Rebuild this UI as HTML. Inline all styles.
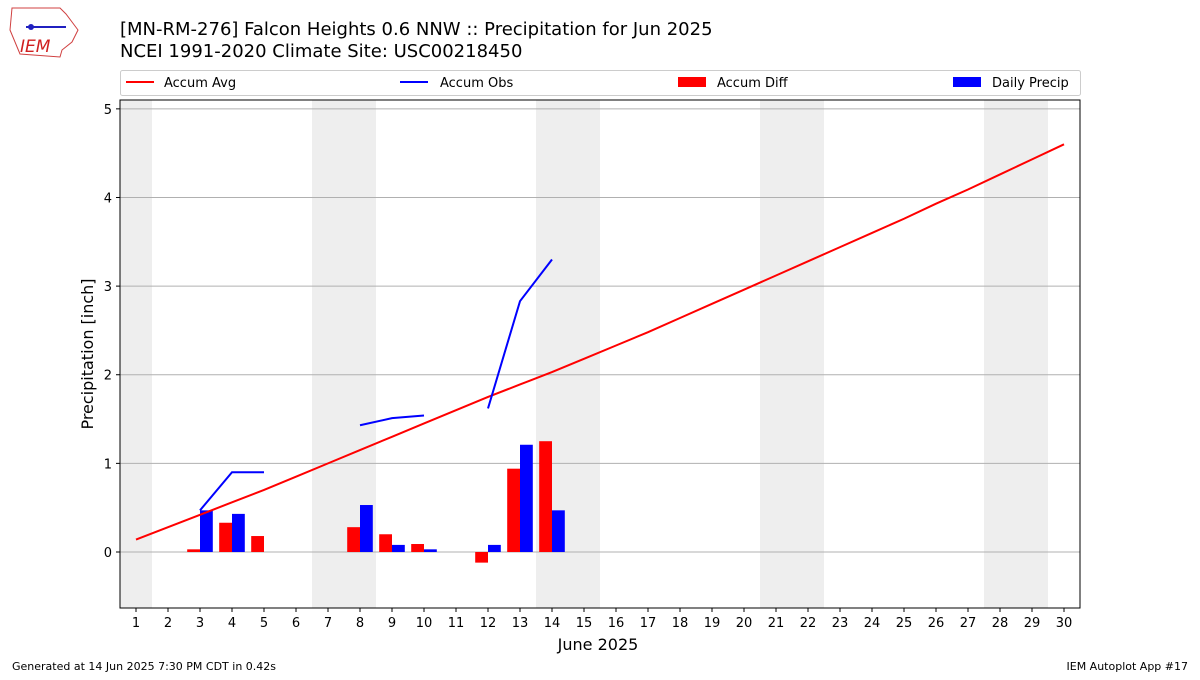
<!DOCTYPE html>
<html><head><meta charset="utf-8"><style>
body{margin:0;background:#fff;font-family:"Liberation Sans","DejaVu Sans",sans-serif;}
svg text{font-family:"DejaVu Sans","Liberation Sans",sans-serif;}
</style></head><body>
<svg id="c" width="1200" height="675" viewBox="0 0 1200 675" xmlns="http://www.w3.org/2000/svg">
<g>
<path d="M12,8 L60,8 L66,14 L78,30 L72,42 L62,50 L60,57 L20,54 L10,30 Z" fill="#fff" stroke="#d04040" stroke-width="1"/>
<text x="20" y="52" font-size="17" fill="#d02020" font-style="italic" font-family="Liberation Serif,serif">IEM</text>
<line x1="26" y1="27" x2="66" y2="27" stroke="#2020c0" stroke-width="2"/>
<circle cx="31" cy="27" r="3" fill="#2020c0"/>
</g>
<text x="120" y="35" font-size="18">[MN-RM-276] Falcon Heights 0.6 NNW :: Precipitation for Jun 2025</text>
<text x="120" y="57" font-size="18">NCEI 1991-2020 Climate Site: USC00218450</text>
<g>
<rect x="120.5" y="70.5" width="960" height="25" fill="#fff" stroke="#ccc" rx="2"/>
<g><line x1="126" y1="82" x2="154" y2="82" stroke="#f00" stroke-width="2"/><text x="164" y="87" font-size="13">Accum Avg</text></g>
<g><line x1="400" y1="82" x2="428" y2="82" stroke="#00f" stroke-width="2"/><text x="440" y="87" font-size="13">Accum Obs</text></g>
<g><rect x="678" y="77" width="28" height="10" fill="#f00"/><text x="717" y="87" font-size="13">Accum Diff</text></g>
<g><rect x="953" y="77" width="28" height="10" fill="#00f"/><text x="992" y="87" font-size="13">Daily Precip</text></g>
</g>
<g id="plot"></g>
<text x="598" y="650" font-size="16" text-anchor="middle">June 2025</text>
<text transform="translate(93,354) rotate(-90)" font-size="16" text-anchor="middle">Precipitation [inch]</text>
<text x="12" y="670" font-size="11">Generated at 14 Jun 2025 7:30 PM CDT in 0.42s</text>
<text x="1188" y="670" font-size="11" text-anchor="end">IEM Autoplot App #17</text>
</svg>
<script>
const days=[1,2,3,4,5,6,7,8,9,10,11,12,13,14,15,16,17,18,19,20,21,22,23,24,25,26,27,28,29,30];
const accumAvg=[0.14,0.28,0.42,0.56,0.70,0.85,1.00,1.15,1.30,1.45,1.60,1.75,1.89,2.03,2.18,2.33,2.48,2.64,2.80,2.96,3.12,3.28,3.44,3.60,3.76,3.93,4.09,4.26,4.43,4.60];
const accumObs=[null,null,0.47,0.90,0.90,null,null,1.43,1.51,1.54,null,1.62,2.83,3.30,null,null,null,null,null,null,null,null,null,null,null,null,null,null,null,null];
const dailyPrecip=[null,null,0.47,0.43,null,null,null,0.53,0.08,0.03,null,0.08,1.21,0.47,null,null,null,null,null,null,null,null,null,null,null,null,null,null,null,null];
const accumDiff=[null,null,0.03,0.33,0.18,null,null,0.28,0.20,0.09,null,-0.12,0.94,1.25,null,null,null,null,null,null,null,null,null,null,null,null,null,null,null,null];
const weekendStarts=[1,7,14,21,28];
const weekendLens=[1,2,2,2,2];
const yTicks=[0,1,2,3,4,5];
const L=120,R=1080,T=100,B=608,xMin=0.5,xMax=30.5,yMin=-0.632,yMax=5.1;
const X=d=>L+(d-xMin)/(xMax-xMin)*(R-L);
const Y=v=>B-(v-yMin)/(yMax-yMin)*(B-T);
const NS="http://www.w3.org/2000/svg",g=document.getElementById('plot');
function mk(t,a,p){const e=document.createElementNS(NS,t);for(const k in a)e.setAttribute(k,a[k]);(p||g).appendChild(e);return e;}
weekendStarts.forEach((s,i)=>{const r=mk('rect',{x:X(s-0.5),y:T,width:X(s-0.5+weekendLens[i])-X(s-0.5),height:B-T,fill:'#eeeeee'});

});
yTicks.forEach(v=>{const l=mk('line',{x1:L,x2:R,y1:Y(v),y2:Y(v),stroke:'#b0b0b0','stroke-width':1});


mk('line',{x1:L-4,x2:L,y1:Y(v),y2:Y(v),stroke:'#000'});
const t=mk('text',{x:L-8,y:Y(v)+5,'font-size':13,'text-anchor':'end'});t.textContent=v;

});
days.forEach(d=>{mk('line',{x1:X(d),x2:X(d),y1:B,y2:B+4,stroke:'#000'});
const t=mk('text',{x:X(d),y:B+19,'font-size':13,'text-anchor':'middle'});t.textContent=d;

});
const bw=0.4;
days.forEach((d,i)=>{
if(accumDiff[i]!=null){const v=accumDiff[i];const r=mk('rect',{x:X(d-bw),y:Math.min(Y(v),Y(0)),width:X(d)-X(d-bw),height:Math.abs(Y(v)-Y(0)),fill:'#f00'});

}
if(dailyPrecip[i]!=null){const v=dailyPrecip[i];const r=mk('rect',{x:X(d),y:Math.min(Y(v),Y(0)),width:X(d+bw)-X(d),height:Math.abs(Y(v)-Y(0)),fill:'#00f'});

}
});
const avgLine=mk('polyline',{points:days.map((d,i)=>X(d)+','+Y(accumAvg[i])).join(' '),fill:'none',stroke:'#f00','stroke-width':2});


let seg=[];const segs=[];
days.forEach((d,i)=>{if(accumObs[i]!=null)seg.push(X(d)+','+Y(accumObs[i]));else{if(seg.length)segs.push(seg);seg=[];}});if(seg.length)segs.push(seg);
segs.forEach(s=>{const p=mk('polyline',{points:s.join(' '),fill:'none',stroke:'#00f','stroke-width':2});

});
const fr=mk('rect',{x:L,y:T,width:R-L,height:B-T,fill:'none',stroke:'#000','stroke-width':1});


</script>
</body></html>
